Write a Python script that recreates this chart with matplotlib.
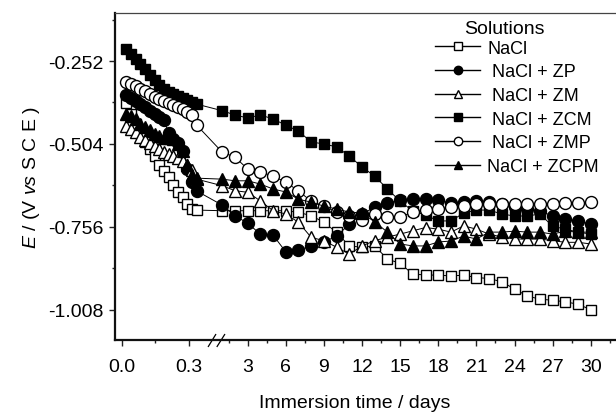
import numpy as np
import matplotlib
matplotlib.use('Agg')
import matplotlib.pyplot as plt
from matplotlib.lines import Line2D
from matplotlib.path import Path
import matplotlib.transforms as mtransforms

plt.rcParams['font.family'] = ['Liberation Sans', 'DejaVu Sans']
plt.rcParams['mathtext.fontset'] = 'custom'
plt.rcParams['mathtext.rm'] = 'Liberation Sans'
plt.rcParams['mathtext.it'] = 'Liberation Sans:italic'

# ---------------- data ----------------
time_days = [0.021, 0.042, 0.063, 0.083, 0.104, 0.125, 0.146, 0.167,
             0.188, 0.208, 0.229, 0.250, 0.271, 0.292, 0.313, 0.333,
             1, 2, 3, 4, 5, 6, 7, 8, 9, 10, 11, 12, 13, 14, 15,
             16, 17, 18, 19, 20, 21, 22, 23, 24, 25, 26, 27, 28, 29, 30]

nacl = [-0.380, -0.413, -0.444, -0.471, -0.498, -0.520, -0.541, -0.568,
        -0.586, -0.605, -0.629, -0.650, -0.665, -0.687, -0.702, -0.705,
        -0.707, -0.707, -0.707, -0.707, -0.707, -0.707, -0.712, -0.722, -0.742, -0.773,
        -0.814, -0.818, -0.814, -0.854, -0.867, -0.900, -0.902, -0.903, -0.905, -0.903,
        -0.910, -0.913, -0.923, -0.945, -0.966, -0.976, -0.979, -0.984, -0.991, -1.008]

nacl_zp = [-0.355, -0.365, -0.374, -0.383, -0.393, -0.404, -0.412, -0.422,
           -0.431, -0.471, -0.489, -0.501, -0.526, -0.580, -0.620, -0.647,
           -0.690, -0.722, -0.745, -0.778, -0.781, -0.832, -0.827, -0.814, -0.802, -0.784,
           -0.748, -0.717, -0.696, -0.684, -0.675, -0.672, -0.672, -0.675, -0.684, -0.681,
           -0.678, -0.681, -0.687, -0.696, -0.702, -0.708, -0.723, -0.732, -0.738, -0.748]

nacl_zm = [-0.450, -0.459, -0.468, -0.483, -0.492, -0.501, -0.510, -0.520,
           -0.529, -0.535, -0.541, -0.547, -0.556, -0.568, -0.583, -0.611,
           -0.631, -0.646, -0.651, -0.677, -0.707, -0.717, -0.742, -0.788, -0.798, -0.818,
           -0.839, -0.814, -0.798, -0.787, -0.778, -0.768, -0.758, -0.763, -0.772, -0.753,
           -0.763, -0.778, -0.787, -0.793, -0.793, -0.793, -0.798, -0.803, -0.803, -0.808]

nacl_zcm = [-0.216, -0.231, -0.246, -0.261, -0.276, -0.295, -0.310, -0.325,
            -0.336, -0.345, -0.352, -0.357, -0.363, -0.371, -0.377, -0.383,
            -0.403, -0.416, -0.425, -0.416, -0.428, -0.447, -0.465, -0.498, -0.504, -0.513,
            -0.541, -0.574, -0.602, -0.641, -0.678, -0.708, -0.720, -0.738, -0.738, -0.714,
            -0.705, -0.705, -0.717, -0.723, -0.723, -0.717, -0.754, -0.763, -0.772, -0.778]

nacl_zmp = [-0.316, -0.322, -0.328, -0.336, -0.343, -0.352, -0.361, -0.368,
            -0.374, -0.380, -0.387, -0.393, -0.399, -0.407, -0.415, -0.447,
            -0.529, -0.544, -0.580, -0.589, -0.602, -0.620, -0.647, -0.678, -0.693, -0.711,
            -0.723, -0.735, -0.717, -0.726, -0.726, -0.711, -0.705, -0.702, -0.696, -0.693,
            -0.687, -0.687, -0.687, -0.687, -0.687, -0.687, -0.687, -0.684, -0.684, -0.681]

nacl_zcpm = [-0.413, -0.419, -0.428, -0.444, -0.453, -0.462, -0.474, -0.480,
             -0.486, -0.486, -0.489, -0.504, -0.526, -0.568, -0.599, -0.608,
             -0.611, -0.616, -0.616, -0.626, -0.641, -0.650, -0.672, -0.681, -0.693, -0.702,
             -0.711, -0.714, -0.741, -0.772, -0.808, -0.814, -0.814, -0.802, -0.799, -0.784,
             -0.793, -0.772, -0.772, -0.769, -0.772, -0.772, -0.778, -0.769, -0.772, -0.772]

series_labels = ['NaCl', ' NaCl + ZP', ' NaCl + ZM', ' NaCl + ZCM', ' NaCl + ZMP', 'NaCl + ZCPM']
series_values = [nacl, nacl_zp, nacl_zm, nacl_zcm, nacl_zmp, nacl_zcpm]

x_major = [0.0, 0.3, 3, 6, 9, 12, 15, 18, 21, 24, 27, 30]
x_major_labels = ['0.0', '0.3', '3', '6', '9', '12', '15', '18', '21', '24', '27', '30']
x_minor = [0.15, 1.5, 4.5, 7.5, 10.5, 13.5, 16.5, 19.5, 22.5, 25.5, 28.5, 31.5]
y_major = [-0.252, -0.504, -0.756, -1.008]
y_major_labels = ['-0.252', '-0.504', '-0.756', '-1.008']
y_minor = [-0.126, -0.378, -0.630, -0.882]

# ---------------- figure ----------------
fig = plt.figure(figsize=(6.16, 4.14), dpi=100)
ax = fig.add_axes([0.18669, 0.17705, 0.81981, 0.78913])

# broken time axis: first hours stretched, then linear in days
K = 17.73
C = 6.91
B = C / (K - 1.0)


def fwd(x):
    x = np.asarray(x, dtype=float)
    return np.where(x <= B, K * x, x + C)


def inv(u):
    u = np.asarray(u, dtype=float)
    return np.where(u <= K * B, u / K, u - C)


ax.set_xscale('function', functions=(fwd, inv))

styles = [('s', 'white', 7.8), ('o', 'black', 8.6), ('^', 'white', 9.0),
          ('s', 'black', 7.8), ('o', 'white', 8.6), ('^', 'black', 9.0)]

handles = []
for vals, lab, (m, fc, ms) in zip(series_values, series_labels, styles):
    ax.plot(time_days, vals, color='black', lw=0.7, marker=m, mfc=fc,
            mec='black', mew=1.0, ms=ms)
    handles.append(Line2D([], [], color='black', lw=1.0, marker=m, mfc=fc,
                          mec='black', mew=1.0, ms=ms * 0.7))

ax.set_xlim(-0.0297, 32.3)
ax.set_ylim(-1.099, -0.106)

ax.set_xticks(x_major)
ax.set_xticklabels(x_major_labels)
ax.set_xticks(x_minor, minor=True)
ax.set_yticks(y_major)
ax.set_yticklabels(y_major_labels)
ax.set_yticks(y_minor, minor=True)

ax.tick_params(which='major', direction='out', length=4.5, width=1.0,
               labelsize=14, color='#222222')
ax.tick_params(which='minor', direction='out', length=2.5, width=1.0,
               color='#222222')
ax.tick_params(axis='x', which='major', pad=9)
ax.tick_params(axis='y', which='major', pad=4)

for side in ['left', 'bottom']:
    ax.spines[side].set_linewidth(1.6)
    ax.spines[side].set_color('#111111')
ax.spines['top'].set_linewidth(0.9)
ax.spines['top'].set_color('#444444')
ax.spines['right'].set_visible(False)

# axis break marker "//" on the time axis
brk = Path([(-8.5, -6.5), (-0.5, 6.5), (0.3, -6.5), (8.5, 6.5)],
           [Path.MOVETO, Path.LINETO, Path.MOVETO, Path.LINETO])
trans = mtransforms.blended_transform_factory(ax.transData, ax.transAxes)
ax.plot([0.5], [0], transform=trans, marker=brk, ms=12.2, mec='black',
        mew=0.9, ls='none', clip_on=False)

ax.set_xlabel('Immersion time / days', fontsize=14)
ax.xaxis.set_label_coords(0.475, -0.165)
ax.set_ylabel(r'$E$ / (V $vs$ S C E )', fontsize=14)
ax.yaxis.set_label_coords(-0.144, 0.5)

leg = ax.legend(handles, series_labels, loc='upper left',
                bbox_to_anchor=(435 / 616, 1 - 40.5 / 414),
                bbox_transform=fig.transFigure, frameon=False, fontsize=13,
                handlelength=2.5, handletextpad=0.39, labelspacing=0.37,
                borderpad=0, borderaxespad=0)
fig.text(504 / 616, 1 - 30 / 414, 'Solutions', ha='center', va='center',
         fontsize=14)

fig.savefig('out.png', dpi=100)
